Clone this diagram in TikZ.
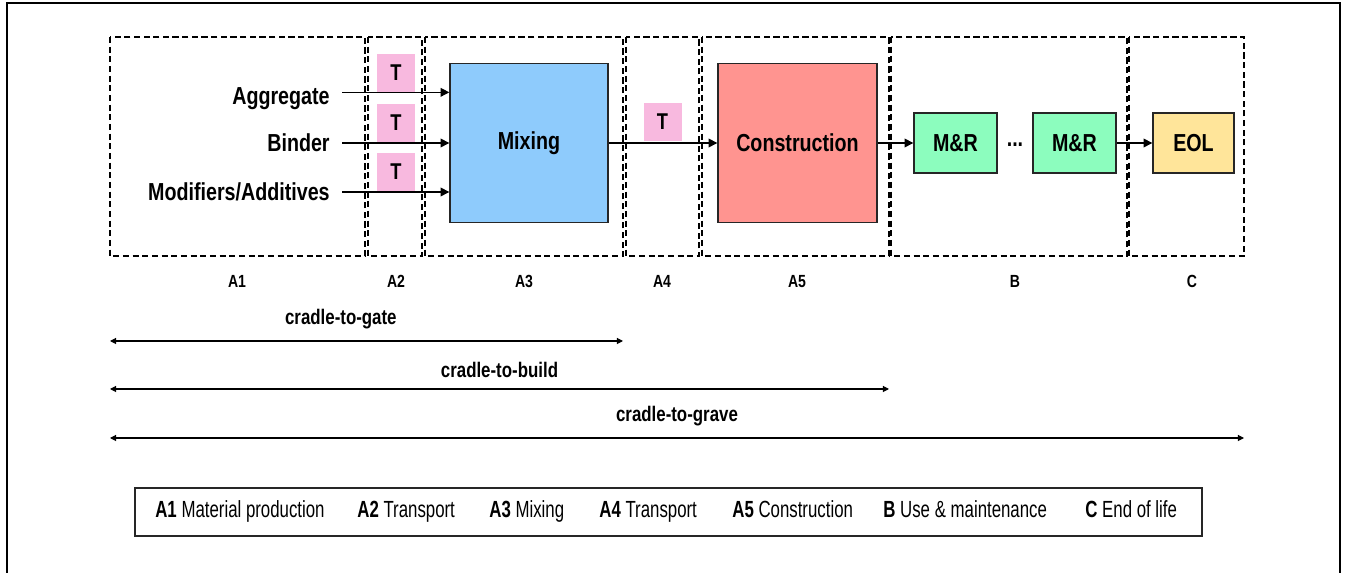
\documentclass[tikz,border=0pt]{standalone}
\usepackage{fontspec}
\setmainfont{Liberation Sans}[FakeStretch=0.8]
\newfontfamily\keyfont{Liberation Sans}[FakeStretch=0.72]
\usetikzlibrary{positioning, arrows.meta, calc}

\definecolor{tpink}{HTML}{F8B9DF}
\definecolor{mixblue}{HTML}{8ECBFC}
\definecolor{consred}{HTML}{FF9490}
\definecolor{mrgreen}{HTML}{8CFDBE}
\definecolor{eolyellow}{HTML}{FFE59A}

\begin{document}
\begin{tikzpicture}[x=0.02cm, y=-0.02cm,
    stage/.style={draw, dash pattern=on 3.5pt off 2pt, line width=0.7pt},
    proc/.style={draw=black!85, line width=0.8pt, inner sep=0, font=\bfseries\fontsize{14}{16}\selectfont},
    tbox/.style={fill=tpink, minimum size=0.76cm, inner sep=0, font=\bfseries\fontsize{13}{15}\selectfont},
    inlbl/.style={anchor=east, inner xsep=0.24cm, inner ysep=0, text height=10pt, text depth=0pt,
                  font=\bfseries\fontsize{14}{16}\selectfont},
    lbl/.style={anchor=base, font=\bfseries\fontsize{10}{12}\selectfont},
    flow/.style={line width=0.8pt, -{Triangle[length=5pt, width=5pt]}},
    span/.style={line width=0.6pt, {Triangle[length=3.5pt, width=3.5pt]}-{Triangle[length=3.5pt, width=3.5pt]}},
    spanlbl/.style={above=3pt, font=\bfseries\fontsize{12}{14}\selectfont},
    key/.style={anchor=base west, inner sep=0, font=\keyfont\fontsize{13.3}{15}\selectfont}]
    \useasboundingbox (0,0) rectangle (1347,573);

    % outer frame
    \draw[line width=1.2pt] (7,573) -- (7,3) -- (1340,3) -- (1340,573);

    % life cycle stages
    \foreach \name/\l/\r/\c in {A1/110/365/237, A2/368/422/396, A3/425/623/524, A4/626/699/662,
                                A5/702/889/797, B/891/1127/1015, C/1129/1244/1192} {
        \draw[stage] (\l,37) rectangle (\r,256);
        \coordinate (\name-sw) at (\l,256);
        \coordinate (\name-se) at (\r,256);
        \node[lbl] (\name-lbl) at (\c,288) {\name};
    }

    % processes
    \node[proc, fill=mixblue, minimum width=3.16cm, minimum height=3.18cm] (mix) at (529,143) {Mixing};
    \node[proc, fill=consred, minimum width=3.18cm, minimum height=3.18cm] (cons) at (797.5,143) {Construction};
    \node[proc, fill=mrgreen, minimum width=1.66cm, minimum height=1.2cm] (mr1) at (955.5,143) {M\&R};
    \node[proc, fill=mrgreen, minimum width=1.66cm, minimum height=1.2cm] (mr2) at (1074.5,143) {M\&R};
    \node[proc, draw=none, fill=none] (dots) at (1015,145) {...};
    \node[proc, fill=eolyellow, minimum width=1.62cm, minimum height=1.2cm] (eol) at (1193.5,143) {EOL};

    % raw materials
    \node[inlbl] (agg) at (342,96) {Aggregate};
    \node[inlbl] (bind) at (342,143) {Binder};
    \node[inlbl] (mod) at (342,192) {Modifiers/Additives};

    % transport
    \node[tbox] (t1) at (396,73) {T};
    \node[tbox] (t2) at (396,123) {T};
    \node[tbox] (t3) at (396,172) {T};
    \node[tbox] (t4) at (662.5,122) {T};

    \draw[flow] (agg.east |- t1.south) -- (t1.south -| mix.west);
    \draw[flow] (bind.east) -- (bind.east -| mix.west);
    \draw[flow] (mod.east) -- (mod.east -| mix.west);
    \draw[flow] (mix) -- (cons);
    \draw[flow] (cons) -- (mr1);
    \draw[flow] (mr2) -- (eol);

    % system boundaries
    \draw[span] (A1-sw |- 0,341) -- node[spanlbl, pos=.45] (gate) {cradle-to-gate} (A3-se |- 0,341);
    \draw[span] (A1-sw |- 0,389) -- node[spanlbl] (build) {cradle-to-build} (A5-se |- 0,389);
    \draw[span] (A1-sw |- 0,438) -- node[spanlbl] (grave) {cradle-to-grave} (C-se |- 0,438);

    % legend
    \node[draw=black!85, line width=0.85pt, minimum width=21.34cm, minimum height=0.96cm] (legend) at (668.5,512) {};
    \foreach \k/\d/\x in {A1/Material production/155, A2/Transport/357, A3/Mixing/489, A4/Transport/599,
                          A5/Construction/732, B/Use \& maintenance/883, C/End of life/1085}
        \node[key] (key-\k) at (\x,518) {\textbf{\k} \d};
\end{tikzpicture}
\end{document}
